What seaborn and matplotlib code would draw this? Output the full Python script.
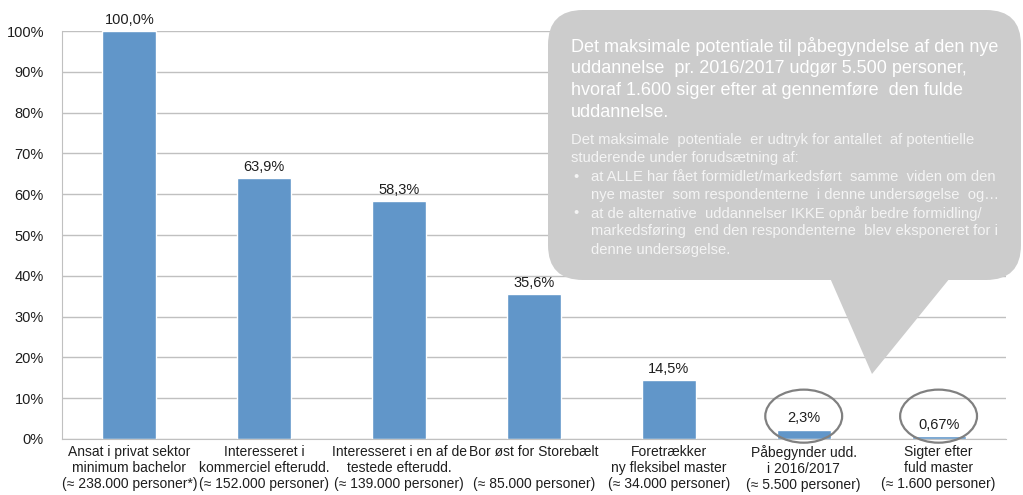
import numpy as np
import pandas as pd
import seaborn as sns
import matplotlib.pyplot as plt
import matplotlib.transforms as mtransforms
from matplotlib.patches import FancyBboxPatch, Polygon, Ellipse

# Data
categories = [
    "Ansat i privat sektor\nminimum bachelor\n(≈ 238.000 personer*)",
    "Interesseret i\nkommerciel efterudd.\n(≈ 152.000 personer)",
    "Interesseret i en af de\ntestede efterudd.\n(≈ 139.000 personer)",
    "Bor øst for Storebælt\n\n(≈ 85.000 personer)",
    "Foretrækker\nny fleksibel master\n(≈ 34.000 personer)",
    "Påbegynder udd.\ni 2016/2017\n(≈ 5.500 personer)",
    "Sigter efter\nfuld master\n(≈ 1.600 personer)",
]
values = [100.0, 63.9, 58.3, 35.6, 14.5, 2.3, 0.67]
value_labels = ["100,0%", "63,9%", "58,3%", "35,6%", "14,5%", "2,3%", "0,67%"]
yticks = [0, 10, 20, 30, 40, 50, 60, 70, 80, 90, 100]
circled = [5, 6]

callout_title = [
    "Det maksimale potentiale til påbegyndelse af den nye",
    "uddannelse  pr. 2016/2017 udgør 5.500 personer,",
    "hvoraf 1.600 siger efter at gennemføre  den fulde",
    "uddannelse.",
]
callout_body = [
    ("", "Det maksimale  potentiale  er udtryk for antallet  af potentielle"),
    ("", "studerende under forudsætning af:"),
    ("•", "at ALLE har fået formidlet/markedsført  samme  viden om den"),
    ("", "nye master  som respondenterne  i denne undersøgelse  og…"),
    ("•", "at de alternative  uddannelser IKKE opnår bedre formidling/"),
    ("", "markedsføring  end den respondenterne  blev eksponeret for i"),
    ("", "denne undersøgelse."),
]

W, H = 1023, 495
BAR = "#6196c9"
GRID = "#c0c0c0"
TXT = "#1e1e1e"

sns.set_style("white")
plt.rcParams["font.family"] = ["Liberation Sans", "DejaVu Sans"]

df = pd.DataFrame({"cat": categories, "val": values})

fig = plt.figure(figsize=(W / 100, H / 100), dpi=100)
ax = fig.add_axes([62 / W, 1 - 439 / H, (1006 - 62) / W, (439 - 31) / H])

sns.barplot(data=df, x="cat", y="val", color=BAR, width=0.4, saturation=1, ax=ax, zorder=2)

ax.set_xlim(-0.5, len(categories) - 0.5)
ax.set_ylim(0, 100)
ax.set_yticks(yticks)
ax.set_yticklabels([f"{t}%" for t in yticks], fontsize=10.5, color=TXT)
ax.yaxis.grid(True, color=GRID, lw=1)
ax.set_axisbelow(True)
ax.set_xlabel("")
ax.set_ylabel("")
ax.tick_params(axis="y", length=5, color=GRID, pad=8)
ax.tick_params(axis="x", which="major", length=0, labelsize=10, labelcolor=TXT, pad=4)
ax.set_xticks(np.arange(-0.5, len(categories)), minor=True)
ax.tick_params(axis="x", which="minor", length=5, color=GRID)
for s in ["top", "right"]:
    ax.spines[s].set_visible(False)
for s in ["left", "bottom"]:
    ax.spines[s].set_color(GRID)

for i, (v, lab) in enumerate(zip(values, value_labels)):
    ax.annotate(lab, (i, v), xytext=(0, 3), textcoords="offset points",
                ha="center", va="bottom", fontsize=10.5, color=TXT)

for i in circled:
    ell = Ellipse((i, 5.6), 0.57, 13, fill=False, ec="#808080", lw=1.6,
                  clip_on=False, zorder=4)
    ax.add_patch(ell)

# Callout in pixel coordinates (origin top-left)
pix = mtransforms.Affine2D().scale(1, -1).translate(0, H)
CALL = "#cccccc"
r = 35
box = FancyBboxPatch((548 + r, 10 + r), 1021 - 548 - 2 * r, 280 - 10 - 2 * r,
                     boxstyle=f"round,pad={r},rounding_size={r}",
                     fc=CALL, ec="none", transform=pix, zorder=5)
fig.patches.append(box)
tail = Polygon([(830, 278), (950, 278), (872, 374)], closed=True,
               fc=CALL, ec="none", transform=pix, zorder=5)
fig.patches.append(tail)

for k, line in enumerate(callout_title):
    fig.text(571 / W, 1 - (47 + 21.7 * k) / H, line, color="white",
             fontsize=13, va="center", ha="left", zorder=6)
for k, (bullet, line) in enumerate(callout_body):
    y = 1 - (140 + 18.3 * k) / H
    x = 571 if (k < 2) else 591
    if bullet:
        fig.text(573 / W, y, bullet, color="#f4f4f4", fontsize=10.5, va="center", zorder=6)
    fig.text(x / W, y, line, color="#f4f4f4", fontsize=10.6, va="center", ha="left", zorder=6)

fig.savefig("out.png", dpi=100)
